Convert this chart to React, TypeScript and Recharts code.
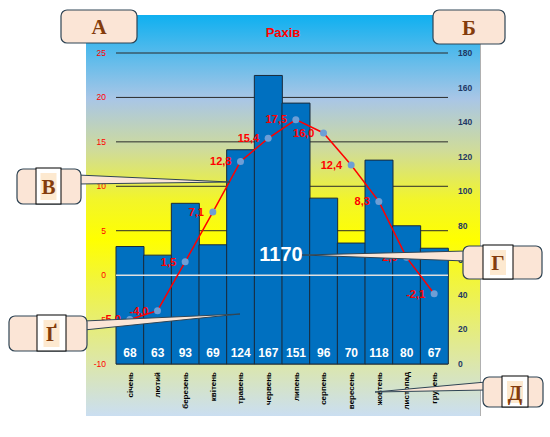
import { ComposedChart, Bar, Line, XAxis, YAxis, CartesianGrid, LabelList, ReferenceLine } from 'recharts';

const months = ['січень', 'лютий', 'березень', 'квітень', 'травень', 'червень', 'липень', 'серпень', 'вересень', 'жовтень', 'листопад', 'грудень'];
const precip = [68, 63, 93, 69, 124, 167, 151, 96, 70, 118, 80, 67];
const temps = [-5.0, -4.0, 1.5, 7.1, 12.8, 15.4, 17.5, 16.0, 12.4, 8.3, 2.0, -2.1];
const tempTicks = [-10, -5, 0, 5, 10, 15, 20, 25];
const precipTicks = [0, 20, 40, 60, 80, 100, 120, 140, 160, 180];
const totalLabel = '1170';
const title = 'Рахів';

const chartData = months.map((m, i) => ({ month: m, precip: precip[i], temp: temps[i] }));

const FONT = '"Liberation Sans", Arial, sans-serif';
const SERIF = '"Liberation Serif", "DejaVu Serif", serif';

function MonthTick(props: any) {
    const { x, y, payload } = props;
    return (
        <g transform={`translate(${x},${y})`}>
            <text transform="rotate(-90)" textAnchor="end" dy="0.35em" fontSize={8} fontWeight="bold" fill="#000" fontFamily={FONT}>
                {payload.value}
            </text>
        </g>
    );
}

function BarValue(props: any) {
    const { x, y, width, height, value } = props;
    return (
        <text x={x + width / 2} y={y + height - 11} dy="0.35em" textAnchor="middle" fill="#fff" fontSize={12} fontWeight="bold" fontFamily={FONT}>
            {value}
        </text>
    );
}

function TempValue(props: any) {
    const { x, y, value } = props;
    return (
        <text x={x - 9} y={y} dy="0.35em" textAnchor="end" fill="#ff0000" fontSize={11} fontWeight="bold" fontFamily={FONT}>
            {Number(value).toFixed(1).replace('.', ',')}
        </text>
    );
}

// callout boxes drawn over the chart
type CalloutProps = { x: number, y: number, w: number, h: number, letter: string, inner?: [number, number], tip?: [number, number][] };

function Callout({ x, y, w, h, letter, inner, tip }: CalloutProps) {
    const cx = inner ? (inner[0] + inner[1]) / 2 : x + w / 2;
    return (
        <g>
            {tip && <polygon points={tip.map(p => p.join(',')).join(' ')} fill="#fbe5d6" stroke="#2f4454" strokeWidth={1} />}
            <rect x={x} y={y} width={w} height={h} rx={6} fill="#fbe5d6" stroke="#2f4454" strokeWidth={1.2} />
            {inner && <rect x={inner[0]} y={y - 1} width={inner[1] - inner[0]} height={h + 1} fill="#fff" stroke="#000" strokeWidth={1} />}
            {inner && <rect x={cx - 8} y={y + 4} width={16} height={h - 8} fill="#fde9d0" />}
            <text x={cx} y={y + h / 2} dy="0.36em" textAnchor="middle" fontSize={21} fontWeight="bold" fill="#843c0c" fontFamily={SERIF}>
                {letter}
            </text>
        </g>
    );
}

export default function App() {
    return (
        <div style={{ position: 'absolute', left: 0, top: 0, width: 550, height: 437, background: '#fff' }}>
            <div style={{
                position: 'absolute', left: 86, top: 15, width: 394, height: 401,
                background: 'linear-gradient(to bottom, #0fb0f0 0%, #a9c6e6 21%, #d0dc98 34%, #f2f52a 46%, #ffff00 56%, #f2f53a 66%, #dde7a6 86%, #cadef1 100%)',
                borderRight: '1px solid #b0b0b0'
            }} />
            <div style={{ position: 'absolute', left: 0, top: 0 }}>
                <ComposedChart width={550} height={437} data={chartData} margin={{ top: 53, right: 72, bottom: 23, left: 86 }} barCategoryGap={0} barGap={0}>
                    <CartesianGrid yAxisId="t" vertical={false} stroke="#2b2b2b" strokeWidth={1} />
                    <XAxis dataKey="month" height={50} axisLine={false} tickLine={false} tick={<MonthTick />} interval={0} />
                    <YAxis yAxisId="t" domain={[-10, 25]} ticks={tempTicks} width={30} axisLine={false} tickLine={false} tickSize={8} tickMargin={2}
                        tick={{ fill: '#ff0000', fontSize: 8.5, fontFamily: FONT }} interval={0} />
                    <YAxis yAxisId="p" orientation="right" domain={[0, 180]} ticks={precipTicks} width={30} axisLine={false} tickLine={false} tickSize={8} tickMargin={2}
                        tick={{ fill: '#1f3864', fontSize: 8.5, fontFamily: FONT, fontWeight: 'bold' }} interval={0} />
                    <Bar yAxisId="p" dataKey="precip" fill="#0070c0" stroke="#1a2a3a" strokeWidth={1} isAnimationActive={false}>
                        <LabelList dataKey="precip" content={<BarValue />} />
                    </Bar>
                    <ReferenceLine yAxisId="t" y={0} stroke="#e0e0e0" strokeWidth={1.5} />
                    <Line yAxisId="t" dataKey="temp" type="linear" stroke="#ff0000" strokeWidth={1.5} dot={{ r: 3.5, fill: '#6d9ed6', stroke: 'none' }} isAnimationActive={false}>
                        <LabelList dataKey="temp" content={<TempValue />} />
                    </Line>
                </ComposedChart>
            </div>
            <svg width={550} height={437} style={{ position: 'absolute', left: 0, top: 0, pointerEvents: 'none' }}>
                <text x={283} y={32} dy="0.35em" textAnchor="middle" fill="#ff0000" fontSize={13} fontWeight="bold" fontFamily={FONT}>{title}</text>
                <text x={281} y={254} dy="0.36em" textAnchor="middle" fill="#fff" fontSize={20} fontWeight="bold" fontFamily={FONT}>{totalLabel}</text>
                <Callout x={61} y={10} w={76} h={33} letter="А" />
                <Callout x={433} y={10} w={72} h={34} letter="Б" />
                <Callout x={17} y={169} w={64} h={35} letter="В" inner={[36, 61]} tip={[[78, 175], [230, 182], [78, 184]]} />
                <Callout x={9} y={316} w={78} h={35} letter="Ґ" inner={[37, 66]} tip={[[84, 321], [240, 314], [84, 330]]} />
                <Callout x={463} y={246} w={79} h={33} letter="Г" inner={[483, 513]} tip={[[466, 251], [302, 255], [466, 261]]} />
                <Callout x={483} y={377} w={60} h={30} letter="Д" inner={[502, 528]} tip={[[486, 382], [375, 392], [486, 390]]} />
            </svg>
        </div>
    );
}
